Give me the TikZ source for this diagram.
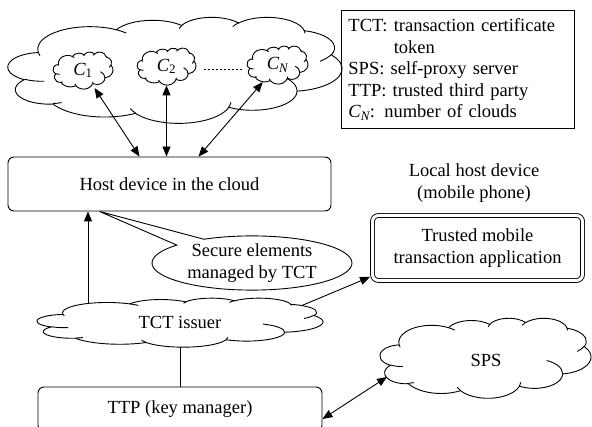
\documentclass[tikz,border=0pt]{standalone}
\usepackage{fontspec}
\setmainfont{Liberation Serif}
\usetikzlibrary{shapes.geometric,shapes.callouts,arrows.meta,backgrounds,calc}

% One puff of the cloud outline: elliptic arc with radii #1,#2 (in the
% 43.2 x 43.2 design square), start angle #3 and sweep #4 given as
% angles seen from the arc's centre, y pointing down.
\newcommand\ocarc[4]{%
  \pgfextra{%
    \pgfmathsetmacro\ocA{atan2(#1*sin(#3),#2*cos(#3))}%
    \pgfmathsetmacro\ocB{atan2(#1*sin(#3+#4),#2*cos(#3+#4))}%
    \pgfmathsetmacro\ocB{\ocB+360*(\ocB<\ocA)}%
    \pgfmathsetmacro\ocA{-(\ocA)}%
    \pgfmathsetmacro\ocB{-(\ocB)}%
  }%
  arc[start angle=\ocA, end angle=\ocB,
      x radius=#1*\ocw/43.2*1pt, y radius=#2*\och/43.2*1pt]}

% Cloud outline with its inner strokes, fitted to the box whose top left
% corner is (#1,#2) and whose size is #3 x #4.
\newcommand\officecloud[4]{%
  \def\ocw{#3}\def\och{#4}%
  \begin{scope}[shift={(#1,#2)}, x={(#3pt/43.2,0pt)}, y={(0pt,-#4pt/43.2)}]
    \filldraw[fill=white] (3.9,14.37)
      \ocarc{6.753}{9.190}{-190.4875}{123.7805}
      \ocarc{5.333}{7.267}{-144.1024}{89.9452}
      \ocarc{4.365}{5.945}{-145.8079}{99.7230}
      \ocarc{4.857}{6.595}{-130.9861}{117.2417}
      \ocarc{5.333}{7.273}{-78.7089}{109.0269}
      \ocarc{6.775}{9.220}{-46.2673}{130.2690}
      \ocarc{5.785}{7.867}{0.6250}{114.0333}
      \ocarc{6.752}{9.215}{22.4516}{115.1726}
      \ocarc{7.720}{10.543}{66.2426}{75.7110}
      \ocarc{4.360}{5.918}{-274.9421}{146.7356}
      \ocarc{4.345}{5.945}{-246.8285}{152.5189}
      -- cycle;
    \draw (4.693,26.177) \ocarc{4.345}{5.945}{86.7420}{26.4295}
          (6.928,34.899) \ocarc{4.360}{5.918}{73.6105}{11.4475}
          (16.478,39.090) \ocarc{6.752}{9.215}{137.6242}{14.0811}
          (28.827,34.751) \ocarc{6.752}{9.215}{6.4533}{15.9984}
          (34.129,22.954) \ocarc{5.785}{7.867}{-70.2924}{70.9174}
          (41.798,15.354) \ocarc{5.333}{7.273}{30.3180}{27.7515}
          (38.324,5.426) \ocarc{4.857}{6.595}{-13.7443}{14.8589}
          (29.078,3.952) \ocarc{4.857}{6.595}{-149.1815}{18.1954}
          (22.141,4.720) \ocarc{4.365}{5.945}{-163.4943}{17.6864}
          (14.000,5.192) \ocarc{6.753}{9.190}{-66.7070}{12.3194}
          (4.127,15.789) \ocarc{6.753}{9.190}{157.6544}{11.8582};
  \end{scope}}

\begin{document}
\begin{tikzpicture}[x=1pt, y=-1pt,
    font=\fontsize{18.5}{21.5}\selectfont,
    line width=0.9pt,
    >={Triangle[length=10pt,width=8pt]},
    box/.style={draw, rounded corners=6pt, align=center, inner sep=0pt},
    cloudlabel/.style={ellipse, inner sep=0pt},
    dots/.style={dash pattern=on 1.2pt off 2.8pt}]

  \clip (0,0) rectangle (592,427);

  % the cloud with its member clouds
  \officecloud{8}{17}{334}{106}
  \officecloud{53}{52}{60}{37}
  \officecloud{137}{48}{59}{37}
  \officecloud{247}{46}{61}{38}
  \node[cloudlabel, minimum width=60, minimum height=37] (c1) at (83,70.5)
    {{\itshape C}\textsubscript{1}};
  \node[cloudlabel, minimum width=59, minimum height=37] (c2) at (166.5,66.5)
    {{\itshape C}\textsubscript{2}};
  \node[cloudlabel, minimum width=61, minimum height=38] (cn) at (277.5,65)
    {{\itshape C}\textsubscript{\itshape N}};
  \draw[dots, shorten <=8pt, shorten >=5pt] ([yshift=-3pt]c2.east) -- ([yshift=-3pt]c2.east -| cn.west);

  % legend
  \node[draw, anchor=north west, align=left, text width=219pt,
        inner xsep=7pt, inner ysep=0pt, minimum height=118]
    (legend) at (341,10)
    {TCT: transaction certificate\\
     \phantom{TCT: }token\\
     SPS: self-proxy server\\
     TTP: trusted third party\\
     {\itshape C}\textsubscript{\itshape N}: number of clouds};

  % host device
  \node[box, minimum width=323, minimum height=54] (host) at (169.5,184)
    {Host device in the cloud};
  \draw[<->] (c1) -- ([xshift=-30pt]host.north);
  \draw[<->] (c2) -- (c2 |- host.north);
  \draw[<->] (cn) -- ([xshift=29pt]host.north);

  % local device
  \node[align=center] (localtxt) at (474,183) {Local host device\\(mobile phone)};
  \node[box, double, double distance=3pt, minimum width=210, minimum height=65]
    (app) at (477.5,248) {Trusted mobile\\transaction application};

  % secure elements callout
  \coordinate (tip) at ([xshift=-70pt]host.south);
  \node[ellipse callout, draw, callout absolute pointer=(tip),
        callout pointer arc=20, minimum width=200, minimum height=54,
        inner sep=0pt, align=center]
    (sec) at (252,263) {Secure elements\\managed by TCT};

  % issuer, key manager and proxy
  \officecloud{37}{298}{286}{49}
  \node[cloudlabel, minimum width=286, minimum height=49] (tct) at (180,322.5)
    {TCT issuer};
  \node[box, minimum width=284, minimum height=44] (ttp) at (180,409)
    {TTP (key manager)};
  \officecloud{380}{318}{211}{80}
  \node[cloudlabel, minimum width=211, minimum height=80] (sps) at (486,360) {SPS};

  \coordinate (spsfoot) at ($(sps.center)+(-99,17)$);
  \draw[<->] ([yshift=-10pt]ttp.east) -- (spsfoot);

  % links leaving the issuer start inside it, hidden by its white fill
  \begin{scope}[on background layer={line width=0.9pt, solid}]
    \draw (tct.center) -- (ttp.north);
    \coordinate (upfoot) at ([xshift=-92pt]tct.center);
    \draw[->] (upfoot) -- (upfoot |- host.south);
    \coordinate (sidefoot) at ([xshift=110pt, yshift=12pt]tct.center);
    \draw[->] (sidefoot) -- ([xshift=-2pt, yshift=4pt]app.south west);
  \end{scope}
\end{tikzpicture}
\end{document}
